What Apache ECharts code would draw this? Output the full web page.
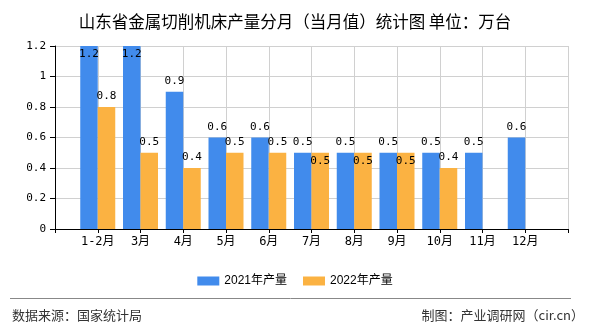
<!DOCTYPE html>
<html>
<head>
<meta charset="utf-8">
<script src="https://cdn.jsdelivr.net/npm/echarts@6/dist/echarts.min.js"></script>
<style>
html,body{margin:0;padding:0;background:#fff;}
#c{width:590px;height:330px;}
</style>
</head>
<body>
<div id="c"></div>
<script>
const categories = ['1-2月','3月','4月','5月','6月','7月','8月','9月','10月','11月','12月'];
const series2021 = [1.2,1.2,0.9,0.6,0.6,0.5,0.5,0.5,0.5,0.5,0.6];
const series2022 = [0.8,0.5,0.4,0.5,0.5,0.5,0.5,0.5,0.4,null,null];
const seriesNames = ['2021年产量','2022年产量'];
const yTicks = [0,0.2,0.4,0.6,0.8,1,1.2];
const titleText = '山东省金属切削机床产量分月（当月值）统计图 单位：万台';
const sourceText = '数据来源：国家统计局';
const creditText = '制图：产业调研网（cir.cn）';

const chart = echarts.init(document.getElementById('c'), null, {renderer:'canvas'});
const axisCats = [''].concat(categories, ['']);
const mono = '"DejaVu Sans Mono", "Noto Sans CJK SC", monospace';
function build(vals, insideIdx) {
  return [null].concat(vals.map((v, i) => {
    if (v == null) return null;
    const item = {value: v};
    if (insideIdx.indexOf(i) >= 0) item.label = {position: 'insideTop', distance: 3};
    return item;
  }), [null]);
}
const option = {
  animation: false,
  title: {
    text: titleText, left: 'center', top: 8,
    textStyle: {fontSize: 16.5, fontWeight: 'normal', color: '#000', fontFamily: '"Noto Sans CJK SC"'}
  },
  legend: {
    data: seriesNames, top: 270, left: 'center',
    itemWidth: 22, itemHeight: 9, itemGap: 16,
    icon: 'rect',
    textStyle: {fontSize: 12, color: '#000', fontFamily: '"Liberation Sans", "Noto Sans CJK SC"'}
  },
  grid: {left: 55, right: 22, top: 46, bottom: 101, containLabel: false},
  xAxis: {
    type: 'category', data: axisCats, boundaryGap: false,
    axisLine: {lineStyle: {color: '#000', width: 1}},
    axisTick: {length: 4, lineStyle: {color: '#000'}, interval: 0},
    axisLabel: {interval: 0, color: '#000', fontSize: 12, margin: 7, fontFamily: mono},
    splitLine: {show: true, interval: 0, lineStyle: {color: '#d0d0d0'}}
  },
  yAxis: {
    type: 'value', min: yTicks[0], max: yTicks[yTicks.length-1], interval: 0.2,
    axisLine: {show: true, lineStyle: {color: '#000'}},
    axisTick: {show: true, length: 5, lineStyle: {color: '#000'}},
    axisLabel: {color: '#000', fontSize: 11, margin: 9, fontFamily: mono},
    splitLine: {show: true, lineStyle: {color: '#d0d0d0'}}
  },
  series: [
    {
      name: seriesNames[0], type: 'bar', data: build(series2021, [0,1]),
      barWidth: 17.5, barGap: '0%',
      itemStyle: {color: '#418BEC'},
      label: {show: true, position: 'top', distance: 5, color: '#000', fontSize: 11, fontFamily: mono}
    },
    {
      name: seriesNames[1], type: 'bar', data: build(series2022, [5,6,7]),
      barWidth: 17.5, barGap: '0%',
      itemStyle: {color: '#FBB242'},
      label: {show: true, position: 'top', distance: 5, color: '#000', fontSize: 11, fontFamily: mono}
    }
  ],
  graphic: [
    {type: 'line', shape: {x1: 10, y1: 298.5, x2: 571, y2: 298.5}, style: {stroke: '#888', lineWidth: 1}},
    {type: 'text', left: 12, top: 309, style: {text: sourceText, fontSize: 13, fill: '#333', fontFamily: '"Noto Sans CJK SC"'}},
    {type: 'text', right: 6, top: 309, style: {text: creditText, fontSize: 13, fill: '#333', fontFamily: '"Noto Sans CJK SC"'}}
  ]
};
chart.setOption(option);
</script>
</body>
</html>
